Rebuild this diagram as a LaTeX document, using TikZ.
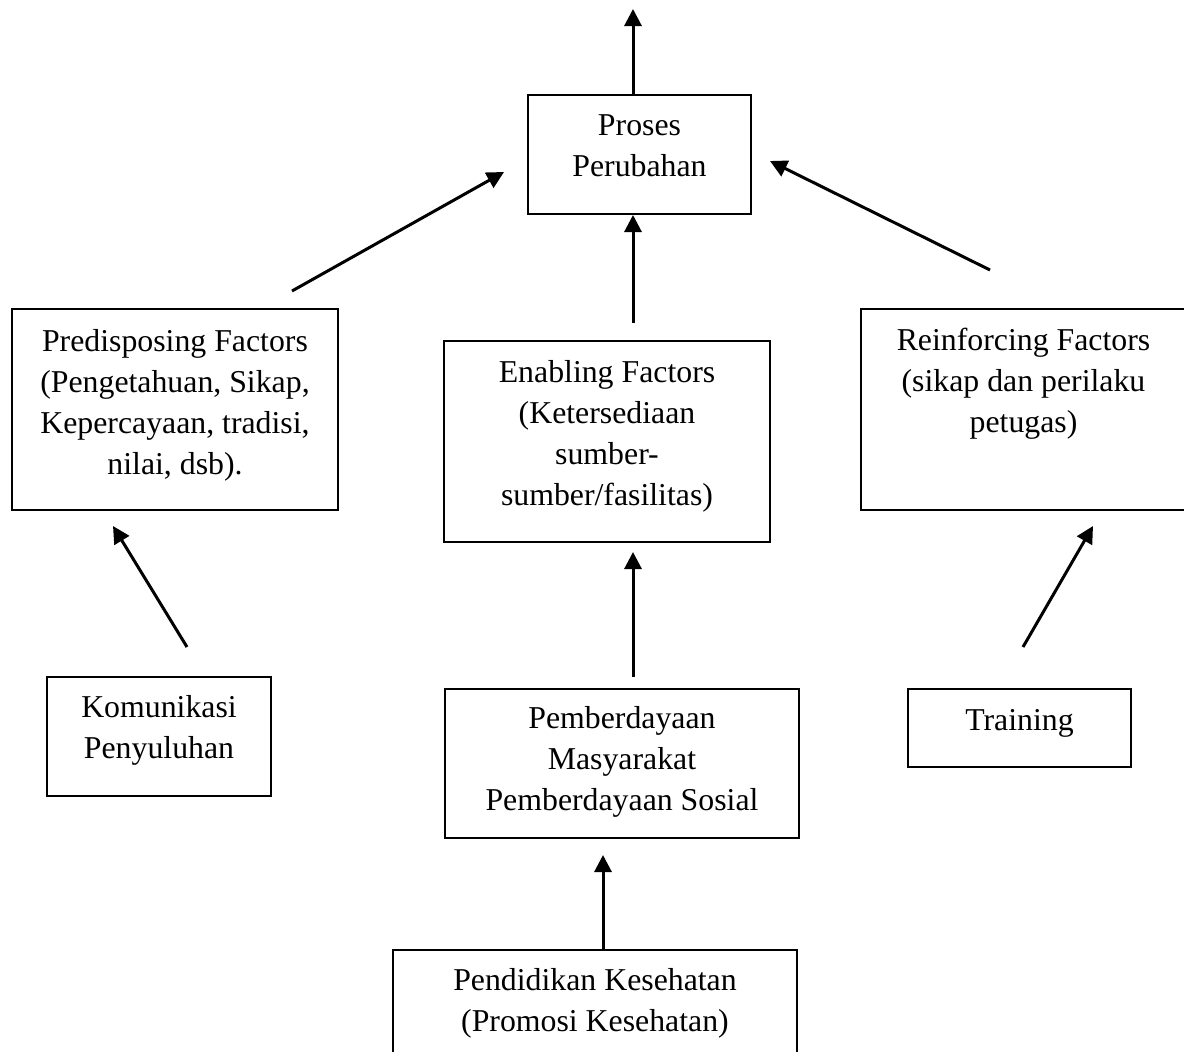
\documentclass[tikz,border=0pt]{standalone}
\usepackage{fontspec}
\setmainfont{Liberation Serif}
\usetikzlibrary{arrows.meta}
\newcommand{\mlines}[1]{\begin{tabular}[t]{@{}c@{}}#1\end{tabular}}
\begin{document}
\begin{tikzpicture}[x=1pt,y=-1pt,
  box/.style={draw, line width=2.2pt, inner sep=0pt, anchor=base,
    font=\fontsize{31.8}{41}\selectfont},
  arr/.style={line width=3pt, -{Triangle[length=17pt,width=17pt]}}]
\useasboundingbox (0,0) rectangle (1184,1052);
\clip (0,0) rectangle (1184,1052);

% boxes
\node[box, minimum width=223pt, text height=40pt, text depth=79pt] (proses) at (639.5,135) {\mlines{Proses\\Perubahan}};
\node[box, minimum width=326pt, text height=42pt, text depth=159pt] (pred) at (175,351) {\mlines{Predisposing Factors\\(Pengetahuan, Sikap,\\Kepercayaan, tradisi,\\nilai, dsb).}};
\node[box, minimum width=326pt, text height=41pt, text depth=160pt] (enab) at (607,382) {\mlines{Enabling Factors\\(Ketersediaan\\sumber-\\sumber/fasilitas)}};
\node[box, minimum width=325pt, text height=41pt, text depth=160pt] (reinf) at (1023.5,350) {\mlines{Reinforcing Factors\\(sikap dan perilaku\\petugas)}};
\node[box, minimum width=224pt, text height=40pt, text depth=79pt] (kom) at (159,717) {\mlines{Komunikasi\\Penyuluhan}};
\node[box, minimum width=354pt, text height=39pt, text depth=110pt] (pember) at (622,728) {\mlines{Pemberdayaan\\Masyarakat\\Pemberdayaan Sosial}};
\node[box, minimum width=223pt, text height=41pt, text depth=37pt] (train) at (1019.5,730) {\mlines{Training}};
\node[box, minimum width=404pt, text height=40pt, text depth=140pt] (pend) at (595,990) {\mlines{Pendidikan Kesehatan\\(Promosi Kesehatan)}};

% arrow end points
\coordinate (topS) at (633,95);   \coordinate (topE) at (633,9);
\coordinate (enS) at (633,323);   \coordinate (enE) at (633,215);
\coordinate (prS) at (292,291);   \coordinate (prE) at (504,172);
\coordinate (reS) at (990,270);   \coordinate (reE) at (770,161);
\coordinate (koS) at (187,647);   \coordinate (koE) at (113,526);
\coordinate (trS) at (1023,647);  \coordinate (trE) at (1093,526);
\coordinate (pbS) at (633,677);   \coordinate (pbE) at (633,552);
\coordinate (pdS) at (603,950);   \coordinate (pdE) at (603,855);

\draw[arr] (topS) -- (topE);
\draw[arr] (enS) -- (enE);
\draw[arr] (prS) -- (prE);
\draw[arr] (reS) -- (reE);
\draw[arr] (koS) -- (koE);
\draw[arr] (trS) -- (trE);
\draw[arr] (pbS) -- (pbE);
\draw[arr] (pdS) -- (pdE);
\end{tikzpicture}
\end{document}
